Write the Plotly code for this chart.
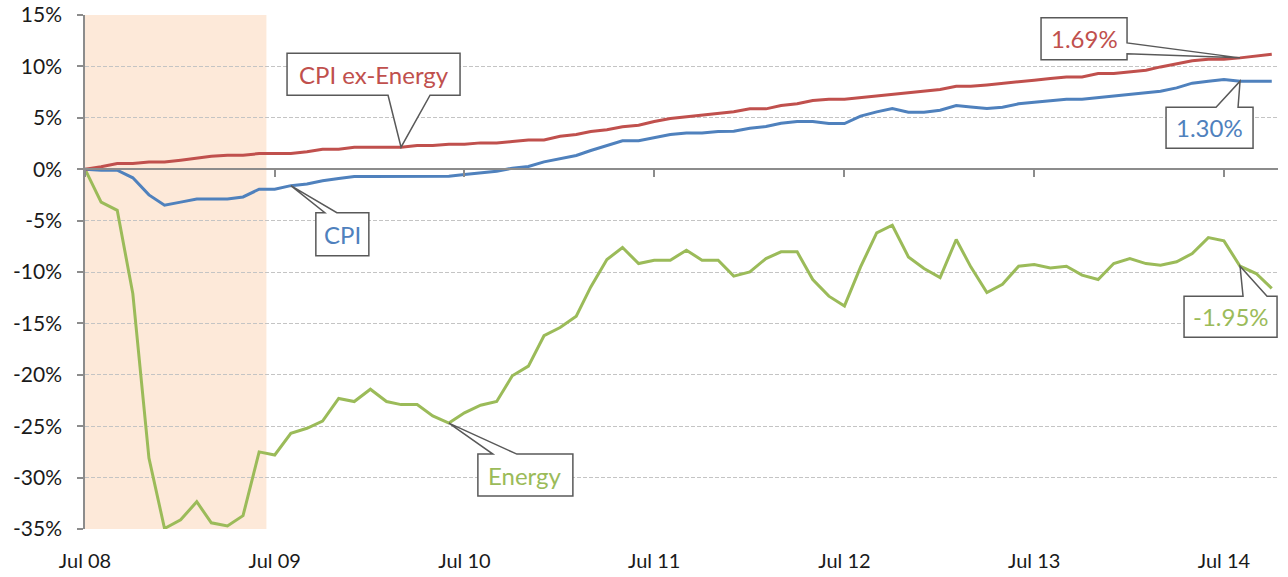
import plotly.graph_objects as go
import pandas as pd

months = pd.date_range("2008-07-01", "2014-10-01", freq="MS").strftime("%Y-%m-%d").tolist()

cpi_ex_energy = [0, 0.23, 0.55, 0.55, 0.7, 0.7, 0.88, 1.07, 1.26, 1.36, 1.36, 1.52, 1.52, 1.52, 1.69, 1.95,
                 1.95, 2.14, 2.14, 2.14, 2.14, 2.3, 2.3, 2.43, 2.43, 2.56, 2.56, 2.69, 2.85, 2.85, 3.2, 3.37,
                 3.66, 3.83, 4.12, 4.28, 4.64, 4.93, 5.09, 5.22, 5.38, 5.58, 5.87, 5.87, 6.19, 6.36, 6.68, 6.81,
                 6.81, 6.97, 7.1, 7.26, 7.39, 7.55, 7.75, 8.07, 8.07, 8.2, 8.33, 8.5, 8.66, 8.82, 8.98, 8.98,
                 9.3, 9.3, 9.47, 9.63, 9.95, 10.28, 10.54, 10.7, 10.7, 10.83, 10.99, 11.19]

cpi = [0, -0.1, -0.1, -0.84, -2.5, -3.5, -3.2, -2.9, -2.9, -2.9, -2.7, -1.95, -1.95, -1.6, -1.43, -1.13,
       -0.9, -0.7, -0.7, -0.7, -0.7, -0.7, -0.68, -0.68, -0.52, -0.39, -0.19, 0.1, 0.26, 0.71, 1.04, 1.33,
       1.82, 2.27, 2.76, 2.76, 3.08, 3.37, 3.53, 3.53, 3.66, 3.7, 3.99, 4.15, 4.47, 4.64, 4.64, 4.44,
       4.44, 5.16, 5.58, 5.9, 5.54, 5.54, 5.74, 6.19, 6.06, 5.9, 6.03, 6.36, 6.52, 6.68, 6.81, 6.81,
       6.97, 7.13, 7.26, 7.43, 7.59, 7.91, 8.37, 8.56, 8.72, 8.56, 8.56, 8.56]

energy = [0, -3.2, -4.0, -12.1, -28.1, -34.95, -34.1, -32.35, -34.4, -34.7, -33.7, -27.5, -27.8, -25.7,
          -25.2, -24.5, -22.3, -22.6, -21.4, -22.6, -22.9, -22.9, -24.0, -24.7, -23.7, -22.96, -22.6, -20.1,
          -19.16, -16.2, -15.4, -14.3, -11.45, -8.79, -7.62, -9.18, -8.85, -8.85, -7.88, -8.85, -8.85, -10.4,
          -9.99, -8.69, -8.04, -8.04, -10.73, -12.35, -13.3, -9.5, -6.19, -5.45, -8.53, -9.66, -10.54, -6.84,
          -9.5, -12.0, -11.2, -9.44, -9.27, -9.6, -9.44, -10.3, -10.73, -9.18, -8.69, -9.18, -9.34, -9.01,
          -8.2, -6.65, -6.97, -9.44, -10.15, -11.6]

recession_start = "2008-07-01"
recession_end = "2009-06-15"

y_ticks = [15, 10, 5, 0, -5, -10, -15, -20, -25, -30, -35]
x_tick_dates = ["2008-07-01", "2009-07-01", "2010-07-01", "2011-07-01", "2012-07-01", "2013-07-01", "2014-07-01"]
x_tick_labels = ["Jul 08", "Jul 09", "Jul 10", "Jul 11", "Jul 12", "Jul 13", "Jul 14"]

BLUE = "#4F81BD"
RED = "#C0504D"
GREEN = "#9BBB59"
FONT = "Lato"
AXIS_GRAY = "#8C8C8C"
GRID_GRAY = "#C4C4C4"
TEXT = "#1a1a1a"

fig = go.Figure()
fig.add_trace(go.Scatter(x=months, y=energy, mode="lines", line=dict(color=GREEN, width=3), name="Energy"))
fig.add_trace(go.Scatter(x=months, y=cpi, mode="lines", line=dict(color=BLUE, width=3), name="CPI"))
fig.add_trace(go.Scatter(x=months, y=cpi_ex_energy, mode="lines", line=dict(color=RED, width=3),
                         name="CPI ex-Energy"))
# invisible trace to carry the zero-crossing axis
fig.add_trace(go.Scatter(x=[months[0]], y=[0], xaxis="x2", mode="markers", marker=dict(opacity=0),
                         hoverinfo="skip", showlegend=False))

shapes = [dict(type="rect", xref="x", yref="paper", x0=recession_start, x1=recession_end, y0=0, y1=1,
               fillcolor="#FDE9D9", line=dict(width=0), layer="between")]
annotations = []


def callout(x, y, box, wedge, side, text, color):
    L, T, R, B = box
    a, b = wedge
    if side == "bottom":
        pts = [(L, T), (R, T), (R, B), (b, B), (0, 0), (a, B), (L, B)]
    elif side == "top":
        pts = [(L, T), (a, T), (0, 0), (b, T), (R, T), (R, B), (L, B)]
    else:  # right
        pts = [(L, T), (R, T), (R, a), (0, 0), (R, b), (R, B), (L, B)]
    path = "M " + " L ".join(f"{px},{-py}" for px, py in pts) + " Z"
    shapes.append(dict(type="path", xref="x", yref="y", xsizemode="pixel", ysizemode="pixel",
                       xanchor=x, yanchor=y, path=path, fillcolor="white",
                       line=dict(color="#595959", width=1.5), layer="above"))
    annotations.append(dict(x=x, y=y, xref="x", yref="y", text=text, showarrow=False,
                            xshift=(L + R) / 2, yshift=-(T + B) / 2,
                            font=dict(family=FONT, size=24, color=color)))


callout(months[20], cpi_ex_energy[20], (-114, -94, 59, -52), (-13, 29), "bottom", "CPI ex-Energy", RED)
callout(months[13], cpi[13], (25, 27, 78, 70), (34, 46), "top", "CPI", BLUE)
callout(months[23], energy[23], (29, 31, 124, 73), (44, 68), "top", "Energy", GREEN)
callout(months[73], cpi_ex_energy[73], (-199, -40, -113, 2), (-15, -4), "right", "1.69%", RED)
callout(months[73], cpi[73], (-74, 26, 13, 67), (-24, -2), "top", "1.30%", BLUE)
callout(months[73], energy[73], (-56, 30, 37, 71), (3, 27), "top", "-1.95%", GREEN)

x_range = ["2008-07-01", "2014-10-13"]

fig.update_layout(
    width=1288, height=577,
    margin=dict(l=85, r=10, t=15, b=48),
    paper_bgcolor="white", plot_bgcolor="white",
    showlegend=False,
    font=dict(family=FONT, size=20, color=TEXT),
    shapes=shapes, annotations=annotations,
    xaxis=dict(type="date", range=x_range, tickvals=x_tick_dates, ticktext=x_tick_labels, automargin=False,
               showgrid=False, zeroline=False, showline=False, ticks="", ticklabelstandoff=18,
               ticklabeloverflow="allow",
               tickfont=dict(family=FONT, size=20, color=TEXT)),
    xaxis2=dict(type="date", range=x_range, matches="x", overlaying="x", anchor="free", position=0.7,
                automargin=False, tickvals=x_tick_dates, showticklabels=False, showgrid=False,
                zeroline=False, showline=True, linecolor=AXIS_GRAY, linewidth=1.5,
                ticks="outside", ticklen=7, tickwidth=1.5, tickcolor=AXIS_GRAY),
    yaxis=dict(range=[-35, 15], tickvals=y_ticks, ticktext=[f"{v}%" for v in y_ticks], automargin=False,
               showgrid=True, gridcolor=GRID_GRAY, gridwidth=1, griddash="4px,2px",
               zeroline=False, showline=True, linecolor=AXIS_GRAY, linewidth=1.5,
               ticks="outside", ticklen=6, tickwidth=1.5, tickcolor=AXIS_GRAY, ticklabelstandoff=11,
               ticklabeloverflow="allow",
               tickfont=dict(family=FONT, size=21, color=TEXT)),
)

# remove the default page margin so the figure fills the window exactly
fig.write_html("out.html", config={"displayModeBar": False},
               post_script="document.body.style.margin='0';")
